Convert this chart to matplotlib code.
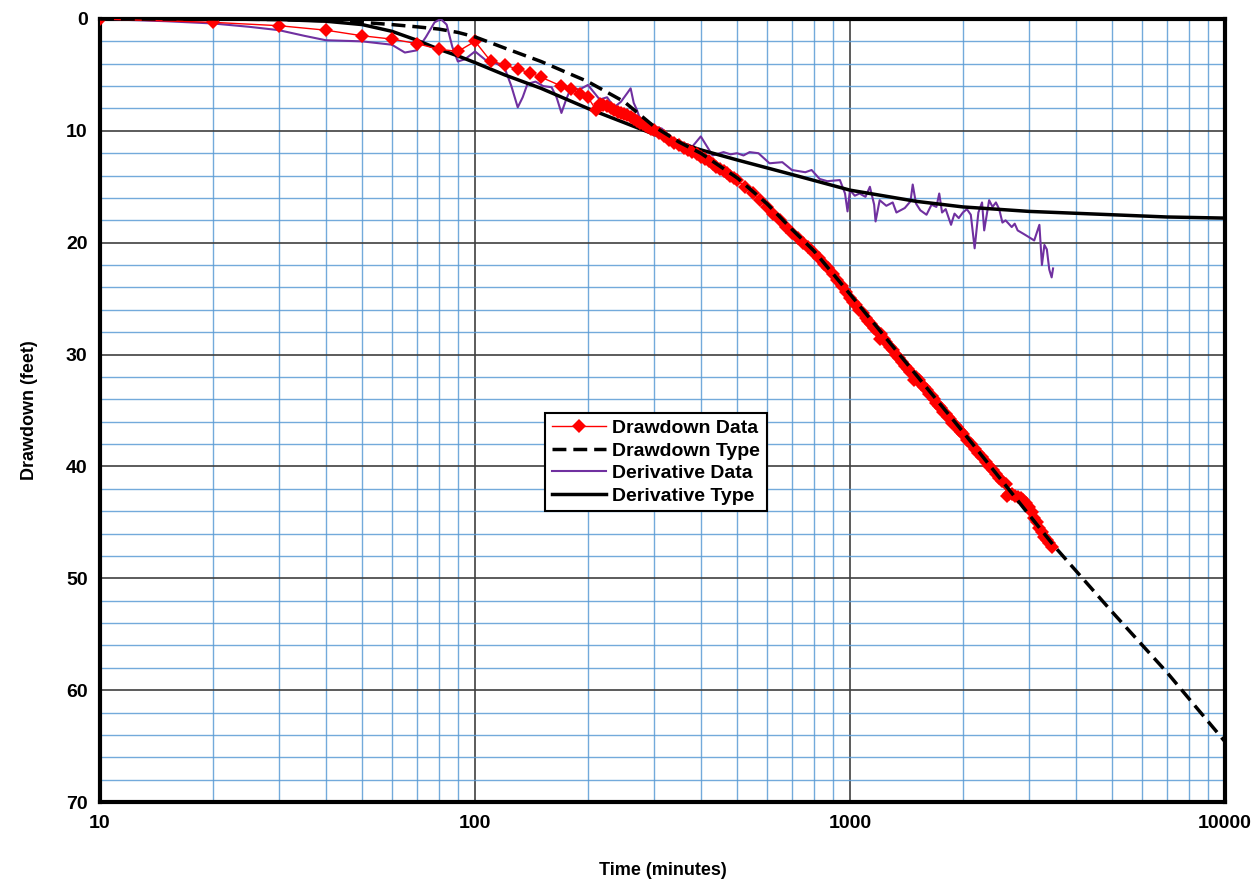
import numpy as np
import matplotlib.pyplot as plt
from matplotlib.ticker import FixedLocator, NullFormatter

plt.rcParams['font.family'] = ['Liberation Sans', 'DejaVu Sans']
plt.rcParams['font.weight'] = 'bold'

# drawdown data (red diamonds)
dd_t = [10, 20, 30, 40, 50, 60, 70, 80, 90, 100, 110, 120, 130, 140, 150, 170, 180, 190, 200,
        210, 215, 220, 225, 230, 235, 240, 245, 250, 255, 260, 265, 270, 275, 280, 285, 290, 295,
        300, 310, 320, 330, 340, 350, 360, 370, 380, 390, 400, 410, 420, 430, 440, 450, 460, 470,
        480, 490, 500, 525, 550, 575, 600, 625, 650, 675, 700, 725, 750, 775, 800, 825, 850, 875,
        900, 925, 950, 975, 1000, 1020, 1040, 1060, 1080, 1100, 1120, 1140, 1160, 1180, 1200,
        1210, 1230, 1250, 1275, 1300, 1325, 1350, 1375, 1400, 1425, 1450, 1480, 1500, 1525,
        1550, 1575, 1600, 1625, 1650, 1675, 1700, 1725, 1750, 1775, 1800, 1825, 1850, 1875,
        1900, 1925, 1950, 1975, 2000, 2050, 2100, 2150, 2200, 2250, 2300, 2350, 2400, 2450,
        2500, 2550, 2600, 2630, 2660, 2700, 2750, 2800, 2850, 2900, 2950, 3000, 3050, 3100,
        3150, 3200, 3250, 3300, 3350, 3400, 3450]
dd_s = [0.0, 0.3, 0.6, 1.0, 1.5, 1.8, 2.2, 2.7, 2.9, 2.0, 3.75, 4.1, 4.5, 4.8, 5.2, 6.0, 6.3, 6.7, 7.0,
        8.1, 7.6, 7.7, 7.8, 8.0, 8.1, 8.3, 8.4, 8.5, 8.6, 8.8, 8.9, 9.1, 9.3, 9.4, 9.6, 9.7, 9.8,
        9.9, 10.2, 10.5, 10.8, 11.1, 11.3, 11.5, 11.7, 11.9, 12.1, 12.3, 12.5, 12.7, 12.95, 13.2, 13.4, 13.6, 13.8,
        14.0, 14.2, 14.4, 15.0, 15.6, 16.2, 16.8, 17.4, 18.0, 18.6, 19.1, 19.6, 20.0, 20.4, 20.9, 21.4, 21.9, 22.3,
        22.8, 23.3, 23.9, 24.4, 24.9, 25.3, 25.6, 26.0, 26.3, 26.7, 27.0, 27.3, 27.6, 27.9, 28.6,
        28.2, 28.6, 28.9, 29.3, 29.6, 30.0, 30.3, 30.7, 31.0, 31.3, 31.6, 32.3, 32.0, 32.3,
        32.6, 32.9, 33.2, 33.5, 33.7, 34.0, 34.3, 34.6, 34.8, 35.1, 35.3, 35.6, 35.8, 36.1,
        36.3, 36.5, 36.7, 36.9, 37.1, 37.6, 38.0, 38.4, 38.8, 39.2, 39.6, 40.0, 40.3, 40.7,
        41.0, 41.3, 41.6, 42.6, 42.5, 42.5, 42.6, 42.7, 42.8, 43.0, 43.3, 43.6, 44.1, 44.6,
        45.0, 45.5, 45.9, 46.3, 46.6, 46.8, 47.2]

# drawdown type curve
dtype_t = [10, 20, 30, 40, 50, 60, 70, 80, 90, 100, 120, 150, 200, 250, 300, 350, 400, 500,
           600, 700, 800, 1000, 1500, 2000, 3000, 3500, 5000, 7000, 10000]
dtype_s = [0.0, 0.0, 0.05, 0.15, 0.3, 0.5, 0.7, 0.9, 1.2, 1.6, 2.6, 3.8, 5.6, 7.4, 9.6, 11.0, 12.0, 14.2,
           16.5, 18.8, 20.7, 24.6, 31.8, 36.9, 44.3, 47.1, 53.0, 58.4, 64.6]

# derivative data (purple)
der_t = [10, 15, 20, 25, 30, 35, 40, 50, 60, 65, 70, 74, 78, 81, 84, 87, 90, 94, 100, 107, 113,
         120, 125, 130, 134, 138, 145, 152, 160, 165, 170, 175, 180, 190, 200, 208, 215, 225,
         235, 245, 255, 260, 265, 270, 280, 300, 315, 335, 360, 380, 400, 430, 460, 480, 500,
         520, 540, 570, 610, 660, 700, 760, 790, 830, 870, 940, 970, 985, 1000, 1030, 1060,
         1100, 1130, 1160, 1170, 1200, 1250, 1300, 1330, 1400, 1450, 1470, 1500, 1540, 1600,
         1650, 1700, 1730, 1760, 1800, 1860, 1900, 1950, 2000, 2050, 2100, 2150, 2200, 2250,
         2280, 2350, 2400, 2450, 2500, 2550, 2600, 2700, 2750, 2800, 2900, 3000, 3100, 3200,
         3250, 3300, 3350, 3400, 3450, 3480]
der_s = [0.0, 0.2, 0.4, 0.7, 1.0, 1.5, 1.9, 2.0, 2.3, 3.0, 2.8, 1.6, 0.3, 0.0, 0.5, 2.5, 3.8, 3.6, 2.9,
         3.7, 3.9, 4.4, 6.0, 7.9, 7.0, 5.8, 5.6, 6.0, 6.1, 7.0, 8.4, 7.2, 6.2, 6.3, 5.9, 6.6, 7.2,
         7.0, 7.9, 7.4, 6.6, 6.2, 7.5, 8.1, 9.6, 9.6, 9.8, 10.7, 11.1, 11.4, 10.5, 12.2, 11.9, 12.1,
         12.0, 12.2, 11.9, 12.0, 12.9, 12.8, 13.5, 13.7, 13.5, 14.3, 14.5, 14.4, 15.6, 17.2, 15.3,
         15.8, 15.6, 15.9, 15.0, 16.6, 18.1, 16.2, 16.7, 16.4, 17.3, 16.9, 16.3, 14.8, 16.5, 17.1,
         17.5, 16.6, 16.8, 15.6, 17.3, 17.0, 18.4, 17.4, 17.8, 17.3, 17.0, 17.5, 20.5, 17.3, 16.4,
         18.9, 16.2, 16.8, 16.4, 17.0, 18.2, 18.0, 18.6, 18.3, 18.9, 19.2, 19.5, 19.8, 18.4, 22.0,
         20.2, 20.6, 22.4, 23.1, 22.3]

# derivative type curve
vtype_t = [10, 20, 30, 40, 50, 60, 70, 80, 90, 100, 120, 150, 200, 300, 400, 500, 700, 1000,
           1500, 2000, 3000, 5000, 7000, 10000]
vtype_s = [0.0, 0.0, 0.05, 0.2, 0.5, 1.1, 1.9, 2.7, 3.3, 3.9, 5.0, 6.2, 8.0, 10.3, 11.7, 12.6,
           13.9, 15.3, 16.3, 16.8, 17.2, 17.5, 17.7, 17.8]

fig = plt.figure(figsize=(12.57, 8.83), dpi=100)
ax = fig.add_axes([0.0796, 0.0917, 0.8949, 0.8868])

ax.set_xscale('log')
ax.set_xlim(10, 10000)
ax.set_ylim(70, 0)

ax.xaxis.set_major_locator(FixedLocator([10, 100, 1000, 10000]))
ax.xaxis.set_minor_locator(FixedLocator([m * d for d in (10, 100, 1000) for m in range(2, 10)]))
ax.xaxis.set_minor_formatter(NullFormatter())
ax.set_xticklabels(['10', '100', '1000', '10000'])
ax.yaxis.set_major_locator(FixedLocator(range(0, 71, 10)))
ax.yaxis.set_minor_locator(FixedLocator(range(0, 71, 2)))

ax.grid(which='minor', color='#5b9bd5', lw=1.0, alpha=0.85)
ax.grid(which='major', color='#404040', lw=1.2)
ax.set_axisbelow(True)
ax.tick_params(which='both', length=0, labelsize=14, pad=9)
for s in ax.spines.values():
    s.set_linewidth(3)
    s.set_color('black')

ax.plot(dd_t, dd_s, color='red', lw=1, marker='D', ms=7, mew=0, label='Drawdown Data', zorder=4)
ax.plot(dtype_t, dtype_s, color='black', lw=2.5, ls=(0, (4, 2)), label='Drawdown Type', zorder=5)
ax.plot(der_t, der_s, color='#7030a0', lw=1.5, label='Derivative Data', zorder=3)
ax.plot(vtype_t, vtype_s, color='black', lw=2.5, label='Derivative Type', zorder=3)

ax.set_xlabel('Time (minutes)', fontsize=13, fontweight='bold', labelpad=22)
ax.set_ylabel('Drawdown (feet)', fontsize=13, fontweight='bold', labelpad=20)

leg = ax.legend(loc='upper left', bbox_to_anchor=(0.3956, 0.497),
                prop={'weight': 'bold', 'size': 14}, frameon=True,
                fancybox=False, edgecolor='black', framealpha=1, handlelength=2.8,
                borderpad=0.35, labelspacing=0.25, handletextpad=0.3, borderaxespad=0)
leg.get_frame().set_linewidth(1.5)

fig.savefig('out.png', dpi=100)
